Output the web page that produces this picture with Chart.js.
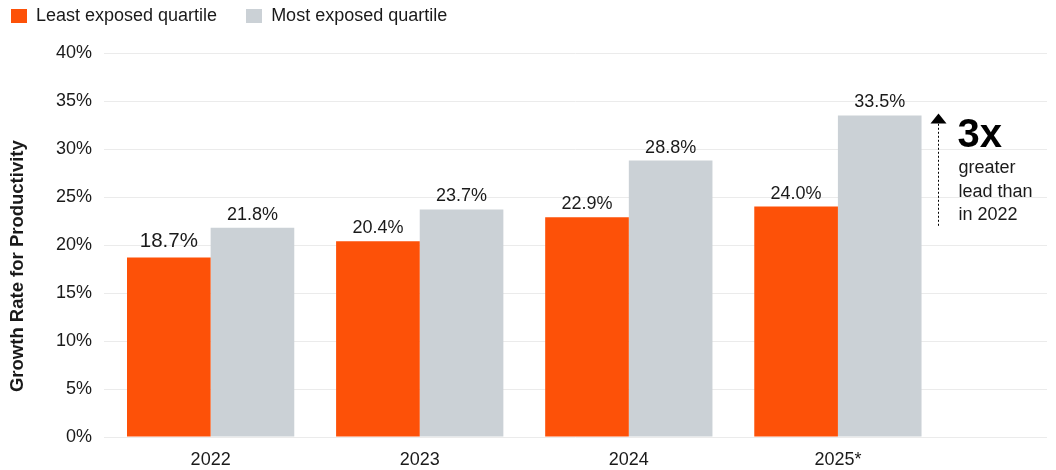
<!DOCTYPE html>
<html>
<head>
<meta charset="utf-8">
<title>Growth Rate for Productivity</title>
<script src="https://cdn.jsdelivr.net/npm/chart.js@4.4.1/dist/chart.umd.min.js"></script>
<style>
    html, body { margin: 0; padding: 0; background: #fff; }
    #wrap { position: relative; width: 1056px; height: 470px; }
    #grafik { display: block; }
    #legend {
        position: absolute; left: 11px; top: 5px;
        display: flex; line-height: 22px;
        font: 18px "Liberation Sans", Arial, Helvetica, sans-serif; color: #1a1a1a;
    }
    .item { display: flex; align-items: center; margin-right: 29px; }
    .swatch { width: 16px; height: 14px; margin-right: 9px; }
</style>
</head>
<body>
<div id="wrap">
    <canvas id="grafik" width="1056" height="470"></canvas>
    <div id="legend"></div>
</div>
<script>
// data
const years = ["2022", "2023", "2024", "2025*"];
const leastExposed = [18.7, 20.4, 22.9, 24.0];
const mostExposed = [21.8, 23.7, 28.8, 33.5];
const seriesNames = ["Least exposed quartile", "Most exposed quartile"];
const seriesColors = ["#FD5108", "#CBD1D6"];
const yTitle = "Growth Rate for Productivity";

// callout next to the last group
const calloutBig = "3x";
const calloutLines = ["greater", "lead than", "in 2022"];
const calloutFrom = 22;
const calloutTo = 33.7;

const FONT = '"Liberation Sans", Arial, Helvetica, sans-serif';
const INK = "#1a1a1a";

// legend as plain html
const legend = document.getElementById("legend");
seriesNames.forEach((name, i) => {
    legend.innerHTML +=
        `<div class="item"><span class="swatch" style="background:${seriesColors[i]}"></span>${name}</div>`;
});

const toPoints = arr => arr.map((v, i) => ({ x: i, y: v }));

// value labels above the bars, y title and the 3x callout
const extras = {
    id: "extras",
    afterDatasetsDraw(chart) {
        const ctx = chart.ctx;
        const { x, y } = chart.scales;
        const area = chart.chartArea;

        ctx.save();
        ctx.fillStyle = INK;
        ctx.textAlign = "center";
        ctx.textBaseline = "alphabetic";
        chart.data.datasets.forEach((ds, di) => {
            chart.getDatasetMeta(di).data.forEach((bar, i) => {
                const val = ds.data[i].y;
                const first = di === 0 && i === 0;
                ctx.font = (first ? "20.5px " : "18px ") + FONT;
                ctx.fillText(val.toFixed(1) + "%", bar.x, bar.y - (first ? 10 : 8));
            });
        });

        // y axis title
        ctx.save();
        ctx.translate(18, area.top + (area.bottom - area.top) * 0.555);
        ctx.rotate(-Math.PI / 2);
        ctx.font = "bold 18.5px " + FONT;
        ctx.textBaseline = "middle";
        ctx.fillText(yTitle, 0, 0);
        ctx.restore();

        // dotted arrow
        const ax = Math.round(x.getPixelForValue(3.48)) + 0.5;
        const top = y.getPixelForValue(calloutTo);
        const bottom = y.getPixelForValue(calloutFrom);
        ctx.strokeStyle = "#000";
        ctx.lineWidth = 1;
        ctx.setLineDash([2, 2]);
        ctx.beginPath();
        ctx.moveTo(ax, bottom);
        ctx.lineTo(ax, top + 8);
        ctx.stroke();
        ctx.setLineDash([]);
        ctx.fillStyle = "#000";
        ctx.beginPath();
        ctx.moveTo(ax, top);
        ctx.lineTo(ax - 8, top + 10);
        ctx.lineTo(ax + 8, top + 10);
        ctx.closePath();
        ctx.fill();

        ctx.textAlign = "left";
        ctx.fillStyle = "#000";
        ctx.font = "bold 40px " + FONT;
        ctx.fillText(calloutBig, ax + 19, top + 34);
        ctx.font = "18px " + FONT;
        ctx.fillStyle = INK;
        calloutLines.forEach((line, i) => {
            ctx.fillText(line, ax + 20, top + 60 + i * 23.5);
        });
        ctx.restore();
    }
};

new Chart(document.getElementById("grafik"), {
    type: "bar",
    data: {
        datasets: [
            { label: seriesNames[0], data: toPoints(leastExposed), backgroundColor: seriesColors[0] },
            { label: seriesNames[1], data: toPoints(mostExposed), backgroundColor: seriesColors[1] }
        ]
    },
    options: {
        responsive: false,
        animation: false,
        categoryPercentage: 0.8,
        barPercentage: 1.0,
        layout: { padding: { top: 53, right: 9, bottom: 0, left: 0 } },
        plugins: {
            legend: { display: false },
            tooltip: { enabled: false }
        },
        scales: {
            x: {
                type: "linear",
                offset: false,
                min: -0.51,
                max: 4,
                afterBuildTicks: scale => {
                    scale.ticks = years.map((_, i) => ({ value: i }));
                },
                afterFit: scale => { scale.height = 33; },
                grid: { display: false, drawTicks: false, offset: false },
                border: { display: false },
                ticks: {
                    autoSkip: false,
                    maxRotation: 0,
                    padding: 12,
                    color: INK,
                    font: { family: FONT, size: 18 },
                    callback: v => years[v]
                }
            },
            y: {
                min: 0,
                max: 40,
                afterFit: scale => { scale.width = 104; },
                grid: { color: "#ebebeb", drawTicks: false },
                border: { display: false },
                ticks: {
                    stepSize: 5,
                    padding: 12,
                    color: INK,
                    font: { family: FONT, size: 18 },
                    callback: v => v + "%"
                }
            }
        }
    },
    plugins: [extras]
});
</script>
</body>
</html>
